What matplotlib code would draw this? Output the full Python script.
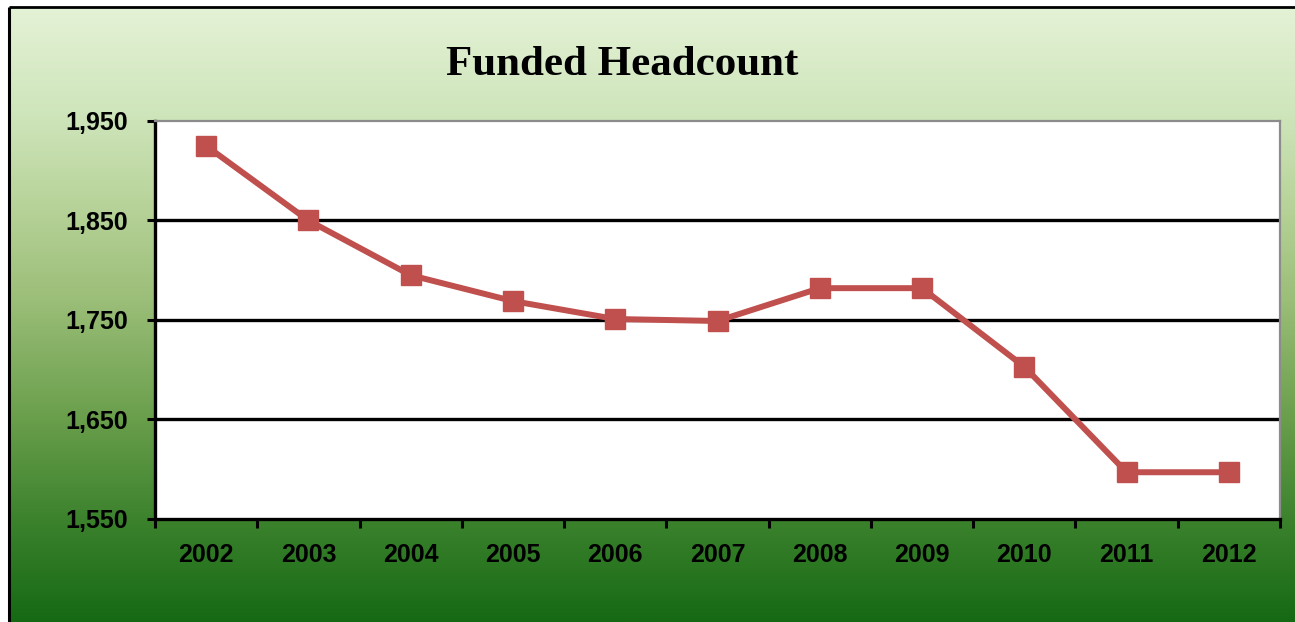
import numpy as np
import matplotlib
matplotlib.use("Agg")
import matplotlib.pyplot as plt
from matplotlib.ticker import FixedLocator, FuncFormatter

# ---- data ----
years = ["2002", "2003", "2004", "2005", "2006", "2007", "2008", "2009", "2010", "2011", "2012"]
headcount = [1925, 1850, 1795, 1769, 1751, 1749, 1782, 1782, 1703, 1597, 1597]
y_ticks = [1550, 1650, 1750, 1850, 1950]
title = "Funded Headcount"

W, H = 1295, 622
fig = plt.figure(figsize=(W / 100, H / 100), dpi=100)
fig.patch.set_facecolor("white")

# ---- background gradient (pixel coordinates) ----
bg = fig.add_axes([0, 0, 1, 1], zorder=0)
bg.set_xlim(0, W)
bg.set_ylim(H, 0)
bg.axis("off")
stops_y = [7, 120, 200, 300, 420, 520, 622]
r = [228, 205, 185, 155, 105, 60, 22]
g = [242, 228, 212, 190, 158, 130, 105]
b = [214, 185, 155, 120, 75, 45, 20]
ys = np.linspace(7, H, 400)
grad = np.stack([np.interp(ys, stops_y, r), np.interp(ys, stops_y, g),
                 np.interp(ys, stops_y, b)], axis=-1)[:, None, :] / 255.0
bg.imshow(grad, extent=(9, W, H, 7), aspect="auto", interpolation="bilinear")
bg.plot([9, W], [7, 7], color="black", lw=2, solid_capstyle="butt")
bg.plot([9, 9], [7, H], color="black", lw=2.2, solid_capstyle="butt")

fig.text(622 / W, 1 - 75 / H, title, ha="center", va="baseline",
         fontsize=31, fontweight="bold", family="Liberation Serif", color="black")

# ---- main plot ----
ax = fig.add_axes([155 / W, 1 - 519 / H, (1280 - 155) / W, (519 - 121) / H], zorder=2)
ax.set_facecolor("white")
x = np.arange(len(years))
ax.plot(x, headcount, color="#C0504D", lw=4.3, marker="s", ms=15,
        markeredgecolor="#C0504D", zorder=3, clip_on=False)

ax.set_xlim(-0.5, len(years) - 0.5)
ax.set_ylim(y_ticks[0], y_ticks[-1])
ax.yaxis.set_major_locator(FixedLocator(y_ticks))
ax.yaxis.set_major_formatter(FuncFormatter(lambda v, p: f"{int(v):,}"))

# major x ticks at category boundaries (no labels), minor at centers (labels)
ax.xaxis.set_major_locator(FixedLocator(np.arange(len(years) + 1) - 0.5))
ax.xaxis.set_major_formatter(FuncFormatter(lambda v, p: ""))
ax.xaxis.set_minor_locator(FixedLocator(x))
ax.set_xticklabels(years, minor=True)

ax.tick_params(axis="x", which="major", direction="out", length=6.5, width=2.2, color="black")
ax.tick_params(axis="x", which="minor", length=0, pad=17, labelsize=18)
ax.tick_params(axis="y", which="major", direction="out", length=6, width=2.2,
               color="black", pad=13.5, labelsize=18)
for lab in ax.get_xticklabels(minor=True) + ax.get_yticklabels():
    lab.set_fontweight("bold")
    lab.set_family("Liberation Sans")

for yv in y_ticks[1:-1]:
    ax.axhline(yv, color="black", lw=2.4, zorder=1)

ax.spines["left"].set_color("black")
ax.spines["left"].set_linewidth(2.4)
ax.spines["bottom"].set_color("black")
ax.spines["bottom"].set_linewidth(2.4)
ax.spines["top"].set_color("#8c8c8c")
ax.spines["top"].set_linewidth(1.6)
ax.spines["right"].set_color("#8c8c8c")
ax.spines["right"].set_linewidth(1.6)

fig.savefig("out.png", dpi=100, facecolor=fig.get_facecolor())
